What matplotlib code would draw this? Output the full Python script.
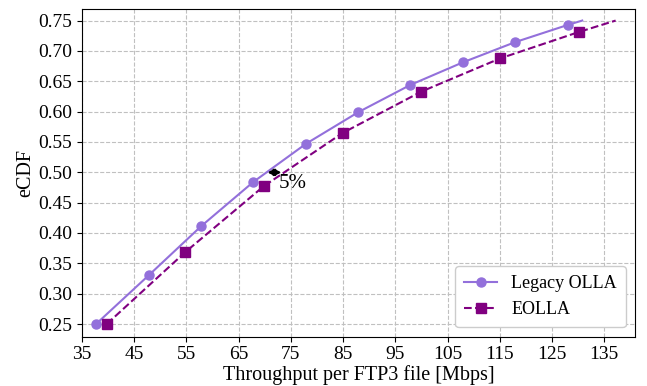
import matplotlib
matplotlib.use("Agg")
import matplotlib.pyplot as plt

plt.rcParams['font.family'] = ['Liberation Serif', 'DejaVu Serif']
plt.rcParams['mathtext.fontset'] = 'stix'

legacy_x = [37.7, 47.75, 57.8, 67.8, 77.9, 87.9, 97.9, 107.9, 118.0, 128.1, 130.8]
legacy_y = [0.25, 0.330, 0.411, 0.484, 0.547, 0.599, 0.644, 0.681, 0.7146, 0.743, 0.75]
eolla_x = [39.75, 54.8, 69.8, 84.9, 100.0, 115.1, 130.1, 137.2]
eolla_y = [0.25, 0.3686, 0.477, 0.5647, 0.633, 0.6877, 0.731, 0.75]
xticks = [35, 45, 55, 65, 75, 85, 95, 105, 115, 125, 135]
yticks = [0.25, 0.30, 0.35, 0.40, 0.45, 0.50, 0.55, 0.60, 0.65, 0.70, 0.75]

fig = plt.figure(figsize=(6.47, 3.86), dpi=100)
ax = fig.add_axes([0.1267, 0.1282, 0.8547, 0.8484])

ax.plot(legacy_x, legacy_y, '-', color='#9370DB', marker='o', markersize=6.5,
        markevery=list(range(len(legacy_x) - 1)), lw=1.5, label='Legacy OLLA')
ax.plot(eolla_x, eolla_y, '--', color='#800080', marker='s', markersize=6.5,
        markevery=list(range(len(eolla_x) - 1)), lw=1.5, label='EOLLA')

ax.annotate('', xy=(70.5, 0.4998), xytext=(73.2, 0.4998),
            arrowprops=dict(arrowstyle='<|-|>', color='black', lw=1.8,
                            mutation_scale=9, shrinkA=0, shrinkB=0))
ax.text(72.6, 0.4816, '5%', fontsize=15, va='center', ha='left')

ax.set_xlim(35, 140.9)
ax.set_ylim(0.2294, 0.769)
ax.set_xticks(xticks)
ax.set_yticks(yticks)
ax.set_xticklabels([str(t) for t in xticks])
ax.set_yticklabels([f'{t:.2f}' for t in yticks])
ax.tick_params(labelsize=14)
ax.grid(True, linestyle='--', color='#c0c0c0', lw=0.8)
ax.set_axisbelow(True)
ax.set_xlabel('Throughput per FTP3 file [Mbps]', fontsize=14.5, labelpad=1)
ax.set_ylabel('eCDF', fontsize=14.5, labelpad=2)
ax.legend(loc='lower right', fontsize=13, fancybox=True, framealpha=1,
          handlelength=1.8, borderpad=0.5)

fig.savefig('out.png', dpi=100)
